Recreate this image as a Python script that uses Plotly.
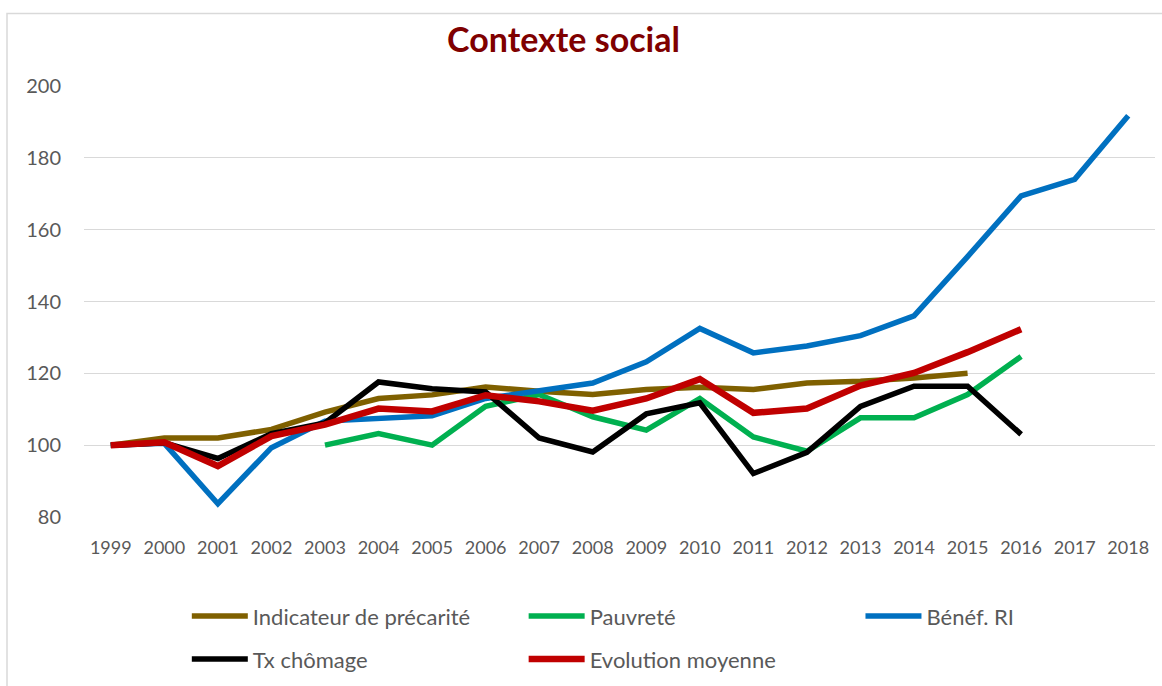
import plotly.graph_objects as go

years = [str(y) for y in range(1999, 2019)]

precarite = [100, 102, 102, 104.4, 109.2, 113, 114, 116.2, 115, 114.1, 115.5, 116.1,
             115.5, 117.3, 117.8, 118.7, 120, None, None, None]
pauvrete = [None, None, None, None, 100, 103.2, 100, 110.8, 114.1, 107.9, 104.2, 113,
            102.3, 98.3, 107.6, 107.6, 114.1, 124.7, None, None]
benef_ri = [100, 100.5, 83.7, 99.3, 106.7, 107.3, 108.2, 113, 115, 117.3, 123.2, 132.5,
            125.7, 127.6, 130.5, 136, 152.5, 169.4, 174, 191.7]
chomage = [100, 100.7, 96.3, 103.2, 106.2, 117.6, 115.7, 114.8, 102, 98.1, 108.7, 111.8,
           92.1, 98, 110.8, 116.4, 116.4, 103, None, None]
moyenne = [100, 100.8, 94.2, 102.5, 105.7, 110.2, 109.4, 113.9, 112.2, 109.6, 113, 118.4,
           109, 110.2, 116.6, 120.1, 125.9, 132.3, None, None]

# name, values, colour, width, legend id, legend paper x, legend paper y
series = [
    ("Indicateur de précarité", precarite, "#7F6000", 5.5, "legend", 0.096, -0.2275),
    ("Pauvreté", pauvrete, "#00B050", 5.5, "legend2", 0.4105, -0.2275),
    ("Bénéf. RI", benef_ri, "#0070C0", 5.5, "legend3", 0.725, -0.2275),
    ("Tx chômage", chomage, "#000000", 5.5, "legend4", 0.096, -0.327),
    ("Evolution moyenne", moyenne, "#C00000", 6.5, "legend5", 0.4105, -0.327),
]

FONT = "Lato"
fig = go.Figure()
legends = {}
for name, vals, color, w, lg, lx, ly in series:
    fig.add_trace(go.Scatter(
        x=years, y=vals, name=name, mode="lines",
        line=dict(color=color, width=w),
        connectgaps=False, legend=lg, showlegend=True,
    ))
    legends[lg] = dict(
        orientation="h", xanchor="left", yanchor="middle", x=lx, y=ly,
        font=dict(family=FONT, size=22, color="#595959"),
        itemwidth=56, bgcolor="rgba(0,0,0,0)", visible=True,
    )

fig.update_layout(
    width=1162, height=686,
    showlegend=True,
    margin=dict(l=84, r=7, t=86, b=168, pad=0),
    paper_bgcolor="white", plot_bgcolor="white",
    font=dict(family=FONT, color="#595959"),
    title=dict(
        text="<b>Contexte social</b>",
        font=dict(family=FONT, size=34, color="#7F0000"),
        x=0.4477, xref="paper", xanchor="center",
        y=1 - 40 / 686, yref="container", yanchor="middle",
    ),
    xaxis=dict(
        type="category", range=[-0.5, 19.5], showgrid=False, showline=False,
        zeroline=False, ticks="outside", ticklen=14, tickcolor="rgba(0,0,0,0)",
        tickfont=dict(family=FONT, size=18, color="#595959"),
    ),
    yaxis=dict(
        range=[80, 200], dtick=20, tick0=80, showgrid=True, gridcolor="#D9D9D9",
        gridwidth=1, zeroline=False, showline=False, ticks="outside", ticklen=18,
        tickcolor="rgba(0,0,0,0)",
        tickfont=dict(family=FONT, size=20, color="#595959"),
    ),
    shapes=[dict(
        type="rect", xref="paper", yref="paper",
        x0=-0.0719, x1=1.02, y0=-0.42, y1=1.168,
        line=dict(color="#D9D9D9", width=1.5), fillcolor="rgba(0,0,0,0)",
        layer="below",
    )],
    **legends,
)

fig.write_html("out.html")
